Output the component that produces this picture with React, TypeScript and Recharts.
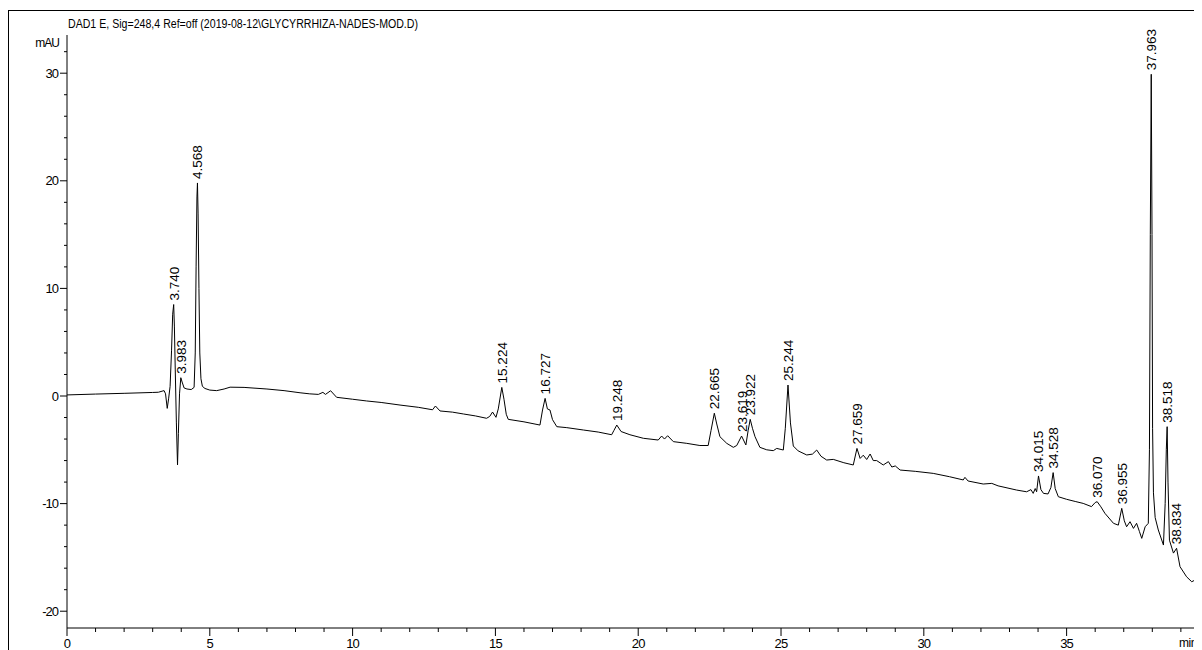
import React from 'react';
import { ComposedChart, Line, Scatter, XAxis, YAxis } from 'recharts';

// retention time (min), signal (mAU)
const trace: [number, number][] = [
  [0, 0.1], [1, 0.18], [2, 0.25], [3, 0.33], [3.2, 0.35], [3.33, 0.45], [3.4, 0.5], [3.45, 0.2], [3.51, -1.15],
  [3.56, -0.2], [3.61, 0.9], [3.66, 4.2], [3.7, 7.6], [3.735, 8.5], [3.76, 6.5], [3.79, 2.5], [3.83, -2.5],
  [3.87, -6.4], [3.9, -3.5], [3.94, 0.2], [3.985, 1.7], [4.03, 1.3], [4.1, 0.75], [4.2, 0.65], [4.35, 0.6],
  [4.45, 0.8], [4.49, 4], [4.52, 12], [4.55, 18.5], [4.568, 19.8], [4.59, 17], [4.62, 10], [4.65, 4],
  [4.69, 1.6], [4.74, 0.9], [4.83, 0.7], [5.0, 0.55], [5.24, 0.5], [5.5, 0.65], [5.71, 0.82], [6.2, 0.8],
  [7.0, 0.65], [7.6, 0.5], [8.16, 0.3], [8.5, 0.2], [8.8, 0.15], [8.96, 0.34], [9.05, 0.15], [9.23, 0.49],
  [9.44, -0.12], [10.0, -0.3], [10.49, -0.46], [11.0, -0.6], [11.66, -0.84], [12.3, -1.05], [12.8, -1.28],
  [12.9, -0.93], [13.06, -1.39], [13.5, -1.5], [13.88, -1.67], [14.3, -1.85], [14.69, -2.07], [14.8, -1.9],
  [14.9, -1.49], [15.02, -1.98], [15.1, -1.2], [15.224, 0.8], [15.3, -0.3], [15.38, -1.7], [15.45, -2.17],
  [16.0, -2.4], [16.56, -2.7], [16.65, -1.3], [16.74, -0.22], [16.82, -1.2], [16.91, -1.3], [17.0, -2.2],
  [17.15, -2.85], [17.5, -2.94], [18.08, -3.16], [18.6, -3.35], [19.07, -3.6], [19.15, -3.2], [19.25, -2.7],
  [19.4, -3.3], [19.71, -3.6], [20.18, -3.93], [20.7, -4.09], [20.82, -3.72], [20.92, -4.0], [21.03, -3.69],
  [21.23, -4.24], [21.7, -4.4], [22.16, -4.6], [22.45, -4.6], [22.55, -3.2], [22.665, -1.6], [22.75, -2.6],
  [22.86, -3.78], [23.1, -4.4], [23.33, -4.77], [23.45, -4.6], [23.619, -3.72], [23.77, -4.55], [23.85, -3.2],
  [23.922, -2.17], [24.0, -3.0], [24.09, -3.78], [24.26, -4.77], [24.5, -5.0], [24.73, -5.08], [24.85, -4.87],
  [25.08, -5.02], [25.15, -3.0], [25.244, 1.02], [25.33, -2.5], [25.43, -4.65], [25.6, -5.1], [25.9, -5.48],
  [26.1, -5.4], [26.25, -5.02], [26.4, -5.6], [26.6, -5.95], [26.83, -5.89], [27.2, -6.2], [27.53, -6.41],
  [27.659, -4.87], [27.77, -5.8], [27.88, -5.5], [28.0, -5.9], [28.12, -5.39], [28.23, -6.0], [28.35, -6.0],
  [28.58, -6.41], [28.76, -6.1], [28.88, -6.6], [29.0, -6.5], [29.17, -6.88], [29.7, -7.0], [30.33, -7.19],
  [30.9, -7.5], [31.38, -7.8], [31.44, -7.56], [31.55, -7.9], [32.08, -8.18], [32.38, -8.12], [32.6, -8.35],
  [33.25, -8.74], [33.6, -8.9], [33.75, -8.7], [33.83, -9.05], [33.9, -8.6], [33.95, -8.9], [34.015, -7.43],
  [34.1, -8.7], [34.19, -9.05], [34.35, -9.1], [34.45, -8.5], [34.528, -7.12], [34.6, -8.6], [34.71, -9.36],
  [35.0, -9.6], [35.3, -9.8], [35.58, -9.98], [35.87, -10.28], [36.0, -9.9], [36.07, -9.82], [36.2, -10.3],
  [36.34, -10.9], [36.64, -11.83], [36.81, -12.0], [36.93, -10.44], [37.02, -11.6], [37.1, -12.15],
  [37.22, -11.68], [37.34, -12.3], [37.45, -11.83], [37.55, -12.6], [37.63, -13.23], [37.75, -12.15],
  [37.86, -11.83], [37.9, -5], [37.93, 15], [37.963, 29.9], [37.99, 15], [38.01, -3], [38.04, -9],
  [38.1, -11.3], [38.21, -12.45], [38.39, -13.85], [38.45, -10], [38.49, -5], [38.52, -2.85], [38.55, -8],
  [38.6, -13.4], [38.74, -14.6], [38.85, -14.15], [38.97, -15.86], [39.2, -16.8], [39.38, -17.26],
  [39.5, -17.1], [39.61, -17.97], [39.74, -17.7],
];

const peakLabels = [
  '3.740', '3.983', '4.568', '15.224', '16.727', '19.248', '22.665', '23.619', '23.922',
  '25.244', '27.659', '34.015', '34.528', '36.070', '36.955', '37.963', '38.518', '38.834',
];
const peakApex = [
  8.5, 1.7, 19.8, 0.8, -0.22, -2.7, -1.6, -3.72, -2.17,
  1.02, -4.87, -7.43, -7.12, -9.82, -10.44, 29.9, -2.85, -14.15,
];

const xTicks = [
  0, 1, 2, 3, 4, 5, 6, 7, 8, 9, 10, 11, 12, 13, 14, 15, 16, 17, 18, 19,
  20, 21, 22, 23, 24, 25, 26, 27, 28, 29, 30, 31, 32, 33, 34, 35, 36, 37, 38, 39,
];
const yTicks = [
  -20, -18, -16, -14, -12, -10, -8, -6, -4, -2, 0, 2, 4, 6, 8, 10, 12, 14, 16, 18,
  20, 22, 24, 26, 28, 30, 32,
];

const titleText = 'DAD1 E, Sig=248,4 Ref=off (2019-08-12\\GLYCYRRHIZA-NADES-MOD.D)';
const yUnit = 'mAU';
const xUnit = 'min';

const lineData = trace.map(([t, v]) => ({ t, v }));
const peakData = peakLabels.map((label, i) => ({ t: parseFloat(label), v: peakApex[i], label }));

const FONT = '"Liberation Sans", Arial, sans-serif';
const W = 1194;
const H = 642;

const XTick = (props: any) => {
  const { x, y, payload } = props;
  const v = payload.value;
  const major = v % 5 === 0;
  return (
    <g>
      <line x1={x} x2={x} y1={y} y2={y + (major ? 8 : 4)} stroke="#000" strokeWidth={1} />
      {major && (
        <text x={x} y={y + 19.5} textAnchor="middle" fontSize={13} fontFamily={FONT} letterSpacing={-0.8} fill="#000">
          {v}
        </text>
      )}
    </g>
  );
};

const YTick = (props: any) => {
  const { x, y, payload } = props;
  const v = payload.value;
  const major = v % 10 === 0;
  return (
    <g>
      <line x1={x - (major ? 7 : 3)} x2={x} y1={y} y2={y} stroke="#000" strokeWidth={1} />
      {major && (
        <text x={x - 9} y={y + 4.5} textAnchor="end" fontSize={13} fontFamily={FONT} letterSpacing={-1} fill="#000">
          {v}
        </text>
      )}
    </g>
  );
};

const PeakLabel = (props: any) => {
  const { cx, cy, payload } = props;
  if (cx == null || cy == null) return <g />;
  return (
    <text
      transform={`translate(${cx + 5},${cy - 4}) rotate(-90)`}
      fontSize={13.5}
      fontFamily={FONT}
      fill="#000"
    >
      {payload.label}
    </text>
  );
};

export default function App() {
  return (
    <div style={{ position: 'relative', width: W, height: H }}>
      <ComposedChart width={W} height={H} margin={{ top: 27, right: 0, bottom: 0, left: 9 }}>
        <XAxis
          type="number"
          dataKey="t"
          domain={[0, 39.74]}
          ticks={xTicks}
          interval={0}
          tick={<XTick />}
          tickLine={false}
          tickSize={0}
          tickMargin={0}
          height={22}
          axisLine={{ stroke: '#000', strokeWidth: 1 }}
        />
        <YAxis
          type="number"
          dataKey="v"
          domain={[-21.56, 33.55]}
          ticks={yTicks}
          interval={0}
          tick={<YTick />}
          tickLine={false}
          tickSize={0}
          tickMargin={0}
          width={50}
          axisLine={{ stroke: '#000', strokeWidth: 1 }}
        />
        <Line
          data={lineData}
          dataKey="v"
          type="linear"
          stroke="#000"
          strokeWidth={1}
          dot={false}
          activeDot={false}
          isAnimationActive={false}
        />
        <Scatter data={peakData} dataKey="v" shape={<PeakLabel />} isAnimationActive={false} />
      </ComposedChart>
      <svg
        width={W}
        height={H}
        style={{ position: 'absolute', left: 0, top: 0, pointerEvents: 'none' }}
      >
        <line x1={0.5} x2={0.5} y1={2} y2={H} stroke="#000" strokeWidth={1} />
        <line x1={0} x2={W} y1={2.5} y2={2.5} stroke="#000" strokeWidth={1} />
        <text x={60} y={20} fontSize={12} fontFamily={FONT} textLength={350} lengthAdjust="spacingAndGlyphs" fill="#000">
          {titleText}
        </text>
        <text x={51} y={39} textAnchor="end" fontSize={12} fontFamily={FONT} letterSpacing={-1} fill="#000">
          {yUnit}
        </text>
        <text x={1171} y={639} fontSize={12} fontFamily={FONT} letterSpacing={-0.5} fill="#000">
          {xUnit}
        </text>
      </svg>
    </div>
  );
}
